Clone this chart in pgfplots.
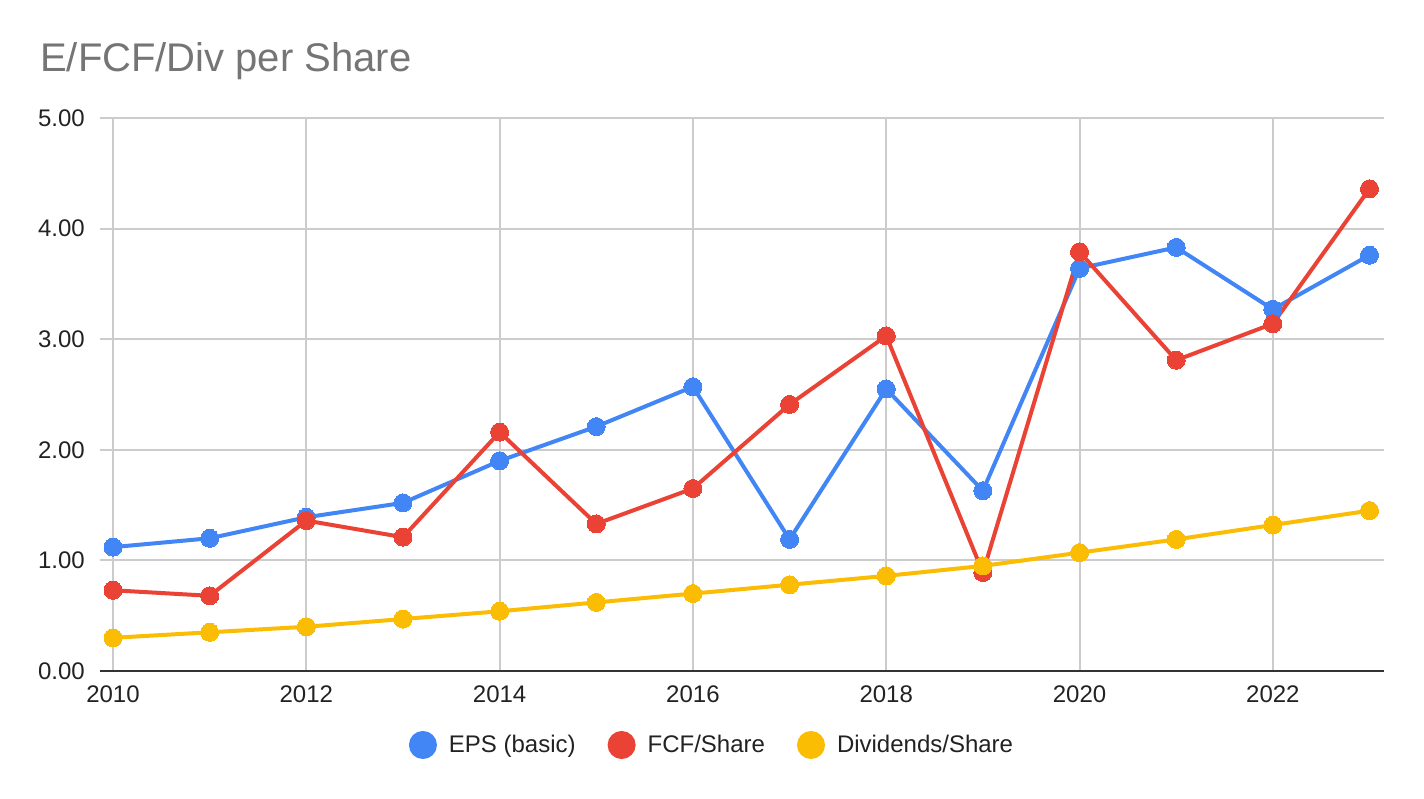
\documentclass[border=0pt]{standalone}
\usepackage{pgfplots}
\pgfplotsset{compat=1.18}
\usepackage{fontspec}
\setmainfont{Liberation Sans}
\definecolor{cBlue}{HTML}{4285F4}
\definecolor{cRed}{HTML}{EA4335}
\definecolor{cYellow}{HTML}{FBBC04}
\definecolor{cGrid}{HTML}{CCCCCC}
\definecolor{cAxis}{HTML}{333333}
\definecolor{cTitle}{HTML}{757575}
\definecolor{cText}{HTML}{222222}
\begin{document}
\begin{tikzpicture}
\path[use as bounding box] (0,0) rectangle (1424pt,798pt);
\begin{axis}[
  at={(113pt,127pt)}, anchor=south west,
  width=1271pt, height=553pt, scale only axis,
  xmin=2010, xmax=2023.15, ymin=0, ymax=5,
  axis line style={draw=none},
  xtick={2010,2012,...,2022},
  ytick={0,1,...,5},
  major tick length=0pt, tick style={draw=none},
  grid=major, grid style={cGrid, line width=2pt},
  /pgf/number format/assume math mode=true,
  xticklabel style={font=\fontsize{24}{28}\selectfont, text=cText, inner sep=0pt, anchor=north, yshift=-15pt,
    /pgf/number format/1000 sep={}},
  yticklabel style={font=\fontsize{24}{28}\selectfont, text=cText, inner sep=0pt, anchor=east, xshift=-28pt,
    /pgf/number format/.cd, fixed, fixed zerofill, precision=2},
  clip=false,
  legend columns=-1,
  legend style={at={(axis description cs:0.4713,-0.1338)}, anchor=center, draw=none, fill=none,
    font=\fontsize{24}{28}\selectfont, text=cText,
    /tikz/every odd column/.append style={column sep=10pt},
    /tikz/every even column/.append style={column sep=30pt}},
  legend image code/.code={\fill[#1] (12pt,0pt) circle (12pt);},
  every axis plot/.append style={line width=4pt, mark=*, mark size=9pt, mark options={line width=0pt}},
  after end axis/.code={
    \draw[cGrid, line width=2pt] ([xshift=-13pt]axis cs:2010,1) -- (axis cs:2010,1);
    \draw[cGrid, line width=2pt] ([xshift=-13pt]axis cs:2010,2) -- (axis cs:2010,2);
    \draw[cGrid, line width=2pt] ([xshift=-13pt]axis cs:2010,3) -- (axis cs:2010,3);
    \draw[cGrid, line width=2pt] ([xshift=-13pt]axis cs:2010,4) -- (axis cs:2010,4);
    \draw[cGrid, line width=2pt] ([xshift=-13pt]axis cs:2010,5) -- (axis cs:2010,5);
    \draw[cAxis, line width=2pt] ([xshift=-13pt]axis cs:2010,0) -- (axis cs:2023.15,0);
  },
]
\addplot[color=cBlue] coordinates {
 (2010,1.12) (2011,1.20) (2012,1.39) (2013,1.52) (2014,1.90) (2015,2.21) (2016,2.57)
 (2017,1.19) (2018,2.55) (2019,1.63) (2020,3.64) (2021,3.83) (2022,3.27) (2023,3.76)};
\addlegendentry{EPS (basic)}
\addplot[color=cRed] coordinates {
 (2010,0.73) (2011,0.68) (2012,1.36) (2013,1.21) (2014,2.16) (2015,1.33) (2016,1.65)
 (2017,2.41) (2018,3.03) (2019,0.89) (2020,3.79) (2021,2.81) (2022,3.14) (2023,4.36)};
\addlegendentry{FCF/Share}
\addplot[color=cYellow] coordinates {
 (2010,0.30) (2011,0.35) (2012,0.40) (2013,0.47) (2014,0.54) (2015,0.62) (2016,0.70)
 (2017,0.78) (2018,0.86) (2019,0.95) (2020,1.07) (2021,1.19) (2022,1.32) (2023,1.45)};
\addlegendentry{Dividends/Share}
\end{axis}
\node[anchor=base west, text=cTitle, font=\fontsize{40}{48}\selectfont, inner sep=0pt] at (40pt,726pt) {E/FCF/Div per Share};
\end{tikzpicture}
\end{document}
